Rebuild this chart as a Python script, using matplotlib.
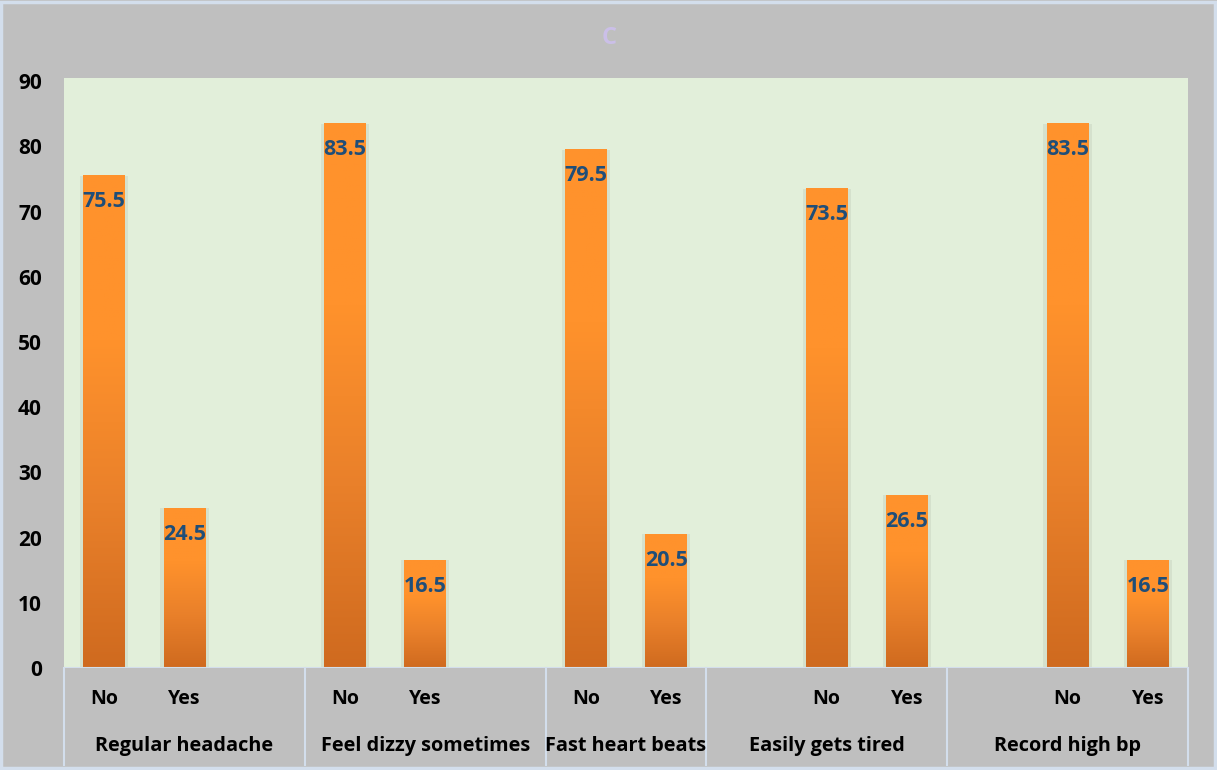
import numpy as np
import matplotlib
matplotlib.use('Agg')
import matplotlib.pyplot as plt
from matplotlib.colors import LinearSegmentedColormap

# Dados do gráfico
grupos = ['Regular headache', 'Feel dizzy sometimes', 'Fast heart beats', 'Easily gets tired', 'Record high bp']
no_vals = [75.5, 83.5, 79.5, 73.5, 83.5]
yes_vals = [24.5, 16.5, 20.5, 26.5, 16.5]
# categorias do eixo x (como no Excel, com posições vazias entre grupos)
cats = [['No', 'Yes', ''], ['No', 'Yes', ''], ['No', 'Yes'], ['', 'No', 'Yes'], ['', 'No', 'Yes']]
yticks = [0, 10, 20, 30, 40, 50, 60, 70, 80, 90]

plt.rcParams['font.family'] = ['Open Sans', 'DejaVu Sans']

fig = plt.figure(figsize=(12.17, 7.70), dpi=100, facecolor='#BFBFBF')
W, H = 1217, 770
ax = fig.add_axes([64 / W, (770 - 668) / H, 1124 / W, 590 / H])
ax.set_facecolor('#E2EFDA')

# borda azul clara em volta da figura
fig.patches.append(plt.Rectangle((0.001, 0.002), 0.997, 0.995, transform=fig.transFigure,
                                 fill=False, edgecolor='#D3DEEC', linewidth=2.5))

# posições dos slots
pos, labels = [], []
i = 0
starts = []
for c in cats:
    starts.append(i)
    for lab in c:
        pos.append(i)
        labels.append(lab)
        i += 1
n = i
bounds = [s - 0.5 for s in starts] + [n - 0.5]

cmap = LinearSegmentedColormap.from_list('laranja', ['#CF6A1F', '#E9802A', '#FF922C', '#FF922C'])
grad = np.linspace(0, 1, 256).reshape(-1, 1)
w = 0.52

x_no, x_yes = [], []
for g, c in enumerate(cats):
    x_no.append(starts[g] + c.index('No'))
    x_yes.append(starts[g] + c.index('Yes'))

xs = x_no + x_yes
vals = no_vals + yes_vals
# sombra
ax.bar(xs, vals, width=w + 0.08, color='#D5E1CD', zorder=1)
for x, v in zip(xs, vals):
    ax.imshow(grad, cmap=cmap, origin='lower', aspect='auto',
              extent=[x - w / 2, x + w / 2, 0, v], zorder=2)
    ax.text(x, v - 4.0, f'{v:.1f}', ha='center', va='center', color='#1F4E79',
            fontsize=15.5, fontweight='bold', zorder=3)

ax.set_xlim(-0.5, n - 0.5)
ax.set_ylim(0, 90.5)
ax.set_yticks(yticks)
ax.set_yticklabels([str(t) for t in yticks], fontsize=15, fontweight='bold')
ax.tick_params(axis='y', length=0, pad=16)
ax.set_xticks([])
for s in ax.spines.values():
    s.set_visible(False)
ax.axhline(0, color='#D3DEEC', linewidth=1.5, zorder=4)

# rótulos do eixo x em dois níveis
for p, lab in zip(pos, labels):
    ax.text(p, -31 / 590, lab, transform=ax.get_xaxis_transform(), ha='center', va='center',
            fontsize=14, fontweight='bold', clip_on=False)
for g, nome in enumerate(grupos):
    centro = (bounds[g] + bounds[g + 1]) / 2
    ax.text(centro, -78 / 590, nome, transform=ax.get_xaxis_transform(), ha='center', va='center',
            fontsize=14.3, fontweight='bold', clip_on=False)
for b in bounds:
    ax.plot([b, b], [0, -97 / 590], transform=ax.get_xaxis_transform(), color='#D3DEEC',
            linewidth=1.5, clip_on=False)

fig.text(609 / W, 1 - 38 / H, 'C', ha='center', va='center', color='#CBBFE8',
         fontsize=17, fontweight='bold')

fig.savefig('out.png', dpi=100, facecolor=fig.get_facecolor())
